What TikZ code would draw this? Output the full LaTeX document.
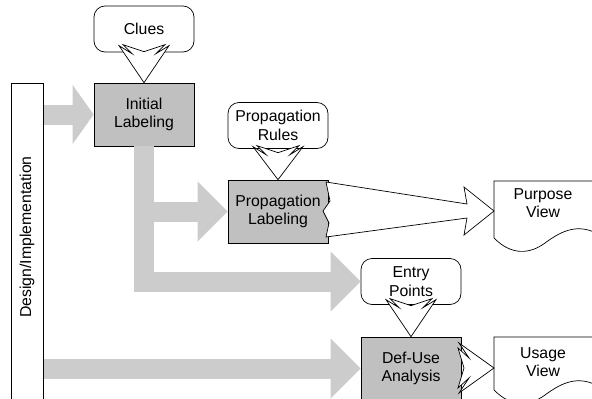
\documentclass[tikz,border=0pt]{standalone}
\usepackage{fontspec}
\setmainfont{Liberation Sans}
\usetikzlibrary{positioning,arrows.meta,calc}
\definecolor{boxgray}{RGB}{192,192,192}
\definecolor{flowgray}{RGB}{204,204,204}

\begin{document}
\begin{tikzpicture}[
    x=1pt, y=-1pt,
    font=\fontsize{15.8}{18.5}\selectfont,
    process/.style={rectangle, draw=black, line width=0.7pt, fill=boxgray, minimum width=100pt, minimum height=63pt, inner sep=0pt, align=center},
    source/.style={rectangle, rounded corners=11pt, draw=black, line width=0.7pt, fill=white, minimum width=100pt, minimum height=46pt, inner sep=0pt, align=center},
    flow/.style={draw=flowgray, line width=20pt, line join=miter, -{Triangle[length=30pt, width=58pt]}},
    openarrow/.style={draw=black, line width=0.7pt, fill=white, line join=miter},
    docshape/.style={draw=black, line width=0.7pt, fill=white},
    doctext/.style={align=center, inner sep=0pt},
  ]
  \useasboundingbox (0,0) rectangle (592,399);

  % Side bar
  \node[draw=black, line width=0.7pt, minimum width=32pt, minimum height=340pt, anchor=north west, inner sep=0pt] (DI) at (11,83) {};
  \node[rotate=90] (DIlabel) at (27,237) {Design/Implementation};

  % Inputs and steps
  \node[source] (clues) at (144,29) {Clues};
  \node[process] (init) at (144,114.5) {Initial\\Labeling};
  \node[source] (rules) at (278,125.5) {Propagation\\Rules};
  \node[process] (prop) at (278,211.5) {Propagation\\Labeling};
  \node[source] (entry) at (411,281.5) {Entry\\Points};
  \node[process] (defuse) at (411,368.5) {Def-Use\\Analysis};

  % Gray flows
  \draw[flow, -{Triangle[length=21pt, width=58pt]}] (DI.east |- init.west) -- (init.west);
  \draw[flow] (init.south) |- (entry.west);
  \draw[flow] (init.south |- prop.west) -- (prop.west);
  \draw[flow] (DI.east |- defuse.west) -- (defuse.west);

  % Views
  \draw[docshape] (494,238) -- (494,181) -- (594,181) -- (594,232)
    .. controls (575,224) and (560,232) .. (545,243)
    .. controls (530,254) and (512,256) .. (494,238) -- cycle;
  \node[doctext] (purpose) at (543,203) {Purpose\\View};
  \coordinate (purposein) at (494,211);

  \draw[docshape] (494,390) -- (494,337) -- (594,337) -- (594,384)
    .. controls (575,376) and (560,384) .. (545,395)
    .. controls (530,406) and (512,408) .. (494,390) -- cycle;
  \node[doctext] (usage) at (543,362) {Usage\\View};
  \coordinate (usagein) at (494,368);

  % Open arrows
  \foreach \t/\b in {init/37, prop/33, defuse/37} {
    \begin{scope}[shift={(\t.north)}]
      \draw[openarrow] (0,0) -- (25,-\b) -- (12,-\b+8) -- (21,-\b-1) -- (0,-\b+6)
        -- (-21,-\b-1) -- (-12,-\b+8) -- (-25,-\b) -- cycle;
    \end{scope}
  }
  \begin{scope}[shift={(purposein)}]
    \draw[openarrow] (0,0) -- (-30,-24) -- (-27,-7) -- (-168,-29) -- (-164,-10)
      -- (-171,0) -- (-165,12) -- (-168,26) -- (-27,7) -- (-30,24) -- cycle;
  \end{scope}
  \begin{scope}[shift={(usagein)}]
    \draw[openarrow] (0,0) -- (-35,-25) -- (-25,-10) -- (-36,-20) -- (-30,0)
      -- (-36,20) -- (-25,10) -- (-35,25) -- cycle;
  \end{scope}
\end{tikzpicture}
\end{document}
